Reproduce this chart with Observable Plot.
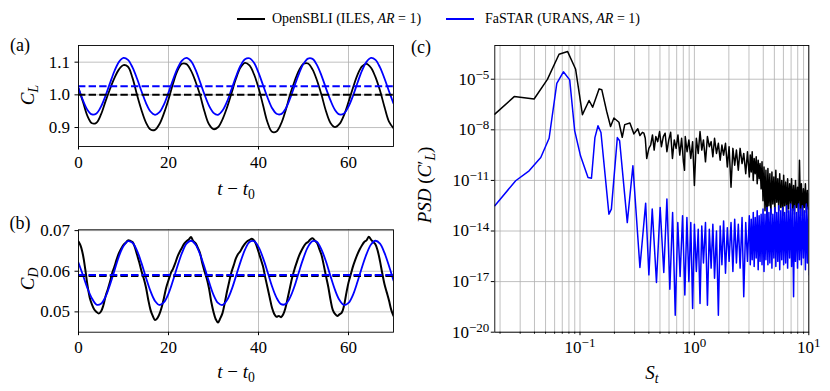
<!DOCTYPE html>
<html><head><meta charset="utf-8">
<script src="https://cdn.jsdelivr.net/npm/d3@7"></script>
<script src="https://cdn.jsdelivr.net/npm/@observablehq/plot@0.6"></script>
<style>
body{margin:0;background:#fff;}
#fig{position:relative;width:830px;height:391px;overflow:hidden;font-family:"Liberation Serif",serif;color:#000;background:#fff;}
#fig svg{position:absolute;left:0;top:0;}
#fig svg, #fig svg text{font-family:"Liberation Serif",serif !important;}
.lab{position:absolute;white-space:nowrap;transform:translate(-50%,-50%);line-height:1;}
.rot{transform:translate(-50%,-50%) rotate(-90deg);}
.leg{position:absolute;white-space:nowrap;font-size:14px;transform:translateY(-50%);line-height:1;}
.legline{position:absolute;height:0;width:28px;}
sub{font-size:0.72em;vertical-align:-0.3em;line-height:0;}
</style></head><body><div id="fig"></div><script>
// ---------------- data ----------------
const legendNames = ["OpenSBLI (ILES, <i>AR</i> = 1)", "FaSTAR (URANS, <i>AR</i> = 1)"];
const tTicks = [0, 20, 40, 60];
const clTicks = [0.9, 1.0, 1.1];
const cdTicks = [0.05, 0.06, 0.07];
const clMeanBlack = 1.000, clMeanBlue = 1.026;
const cdMeanBlack = 0.0589, cdMeanBlue = 0.0591;

const tCoarse = [0,1,2,3,4,5,6,7,8,9,10,11,12,13,14,15,16,17,18,19,20,21,22,23,24,25,26,27,28,29,30,31,32,33,34,35,36,37,38,39,40,41,42,43,44,45,46,47,48,49,50,51,52,53,54,55,56,57,58,59,60,61,62,63,64,65,66,67,68,69,70];
const clBlack = [
1.020,0.978,0.935,0.913,0.915,0.940,0.980,1.018,1.052,1.078,
1.091,1.086,1.052,1.000,0.953,0.915,0.894,0.893,0.911,0.944,
0.986,1.034,1.074,1.095,1.094,1.074,1.041,1.000,0.949,0.910,
0.895,0.901,0.925,0.961,1.005,1.050,1.084,1.098,1.090,1.063,
1.022,0.969,0.916,0.887,0.888,0.911,0.951,1.000,1.041,1.075,
1.095,1.096,1.078,1.044,1.000,0.950,0.914,0.901,0.911,0.938,
0.978,1.022,1.061,1.087,1.095,1.083,1.054,1.013,0.963,0.918,
0.898];
const clBlue = [
1.021,0.983,0.954,0.940,0.943,0.964,0.997,1.036,1.073,1.101,
1.113,1.107,1.084,1.050,1.011,0.975,0.949,0.939,0.947,0.971,
1.007,1.046,1.081,1.105,1.113,1.103,1.077,1.040,1.001,0.967,
0.945,0.939,0.952,0.979,1.017,1.056,1.089,1.109,1.112,1.098,
1.068,1.030,0.992,0.960,0.942,0.941,0.957,0.988,1.027,1.065,
1.095,1.111,1.110,1.091,1.059,1.020,0.983,0.954,0.940,0.943,
0.964,0.997,1.037,1.074,1.101,1.113,1.107,1.084,1.050,1.011,
0.974];
const cdBlue = [
0.0621,0.0590,0.0558,0.0533,0.0518,0.0520,0.0537,0.0567,0.0602,0.0637,
0.0662,0.0674,0.0670,0.0651,0.0620,0.0584,0.0551,0.0527,0.0517,0.0524,
0.0545,0.0577,0.0613,0.0645,0.0668,0.0675,0.0666,0.0642,0.0610,0.0574,
0.0542,0.0522,0.0517,0.0529,0.0554,0.0588,0.0623,0.0653,0.0672,0.0674,
0.0660,0.0633,0.0599,0.0563,0.0535,0.0519,0.0519,0.0535,0.0563,0.0599,
0.0633,0.0660,0.0674,0.0672,0.0653,0.0624,0.0588,0.0554,0.0529,0.0517,
0.0522,0.0542,0.0574,0.0610,0.0642,0.0666,0.0675,0.0668,0.0645,0.0613,
0.0577];
const tFine = [
0,0.5,1,1.5,2,2.5,3,3.5,4,4.5,
5,5.5,6,6.5,7,7.5,8,8.5,9,9.5,
10,10.5,11,11.5,12,12.5,13,13.5,14,14.5,
15,15.5,16,16.5,17,17.5,18,18.5,19,19.5,
20,20.5,21,21.5,22,22.5,23,23.5,24,24.5,
25,25.5,26,26.5,27,27.5,28,28.5,29,29.5,
30,30.5,31,31.5,32,32.5,33,33.5,34,34.5,
35,35.5,36,36.5,37,37.5,38,38.5,39,39.5,
40,40.5,41,41.5,42,42.5,43,43.5,44,44.5,
45,45.5,46,46.5,47,47.5,48,48.5,49,49.5,
50,50.5,51,51.5,52,52.5,53,53.5,54,54.5,
55,55.5,56,56.5,57,57.5,58,58.5,59,59.5,
60,60.5,61,61.5,62,62.5,63,63.5,64,64.5,
65,65.5,66,66.5,67,67.5,68,68.5,69,69.5,
70];
const cdBlack = [
0.0673,0.0662,0.0640,0.0605,0.0565,0.0535,0.0518,0.0506,0.0500,0.0496,
0.0501,0.0515,0.0538,0.0555,0.0574,0.0596,0.0612,0.0630,0.0645,0.0656,
0.0665,0.0670,0.0676,0.0675,0.0672,0.0660,0.0641,0.0622,0.0600,0.0582,
0.0560,0.0530,0.0505,0.0490,0.0480,0.0484,0.0495,0.0512,0.0535,0.0560,
0.0578,0.0595,0.0606,0.0620,0.0636,0.0648,0.0658,0.0668,0.0674,0.0678,
0.0684,0.0674,0.0669,0.0658,0.0645,0.0620,0.0600,0.0582,0.0558,0.0525,
0.0500,0.0482,0.0474,0.0484,0.0497,0.0522,0.0550,0.0575,0.0598,0.0615,
0.0632,0.0643,0.0650,0.0660,0.0668,0.0674,0.0677,0.0680,0.0676,0.0665,
0.0648,0.0630,0.0612,0.0585,0.0560,0.0535,0.0510,0.0495,0.0488,0.0490,
0.0487,0.0494,0.0510,0.0535,0.0560,0.0585,0.0605,0.0622,0.0638,0.0650,
0.0660,0.0668,0.0672,0.0678,0.0681,0.0676,0.0670,0.0655,0.0640,0.0615,
0.0588,0.0562,0.0530,0.0505,0.0495,0.0490,0.0494,0.0498,0.0515,0.0545,
0.0572,0.0592,0.0612,0.0628,0.0642,0.0654,0.0664,0.0672,0.0676,0.0685,
0.0678,0.0672,0.0666,0.0650,0.0625,0.0595,0.0568,0.0548,0.0528,0.0505,
0.0490];

// PSD: [St, log10(PSD)]
const psdBlackLow = [
[0.018,-7.07],[0.0266,-6.03],[0.0397,-6.17],[0.0519,-5.01],[0.0656,-3.52],[0.0780,-3.36],[0.0916,-4.41],
[0.105,-7.10],[0.120,-6.26],[0.129,-6.66],[0.147,-5.57],[0.155,-5.62],[0.171,-6.90],[0.185,-7.80],[0.198,-7.30],
[0.219,-7.55],[0.234,-8.44],[0.246,-7.69],[0.273,-7.60],[0.296,-8.24],[0.320,-7.94],[0.334,-8.34],[0.351,-8.15],
[0.362,-8.20],[0.372,-8.50],[0.383,-9.70],[0.400,-9.10],[0.415,-8.9],[0.43,-8.3],[0.445,-9.2],[0.46,-8.4],
[0.478,-8.7],[0.496,-8.1],[0.515,-9.0],[0.535,-8.4],[0.555,-8.2],[0.575,-9.3],[0.597,-8.6],[0.62,-8.15],
[0.643,-9.7],[0.667,-8.6],[0.692,-9.1],[0.718,-8.3],[0.745,-9.5],[0.773,-8.5],[0.802,-9.9],[0.82,-10.4],
[0.832,-8.4],[0.863,-9.3],[0.895,-8.6],[0.93,-9.7],[0.965,-8.7]];
const psdBlueLow = [
[0.018,-12.5],[0.0274,-11.02],[0.0359,-10.43],[0.0454,-9.64],[0.0537,-8.5],[0.0627,-5.24],[0.0716,-4.56],
[0.0813,-5.04],[0.0899,-8.06],[0.101,-9.54],[0.1175,-10.83],[0.126,-10.87],[0.135,-8.46],[0.1437,-7.76],
[0.1525,-8.16],[0.179,-13.0],[0.188,-12.7],[0.212,-8.46],[0.222,-8.65],[0.259,-13.5],[0.290,-10.13],
[0.334,-16.16],[0.375,-12.35],[0.40,-16.6],[0.428,-12.7],[0.466,-17.05],[0.502,-12.6],[0.54,-16.46],
[0.575,-12.1],[0.61,-17.45],[0.645,-12.9],[0.68,-19.0],[0.716,-13.5],[0.75,-16.7],[0.788,-13.1],
[0.825,-17.8],[0.86,-13.2],[0.895,-17.0],[0.93,-13.5],[0.965,-18.6]];
const stHigh = [
1.00,1.04,1.08,1.12,1.16,1.20,1.25,1.30,1.35,1.40,
1.45,1.50,1.56,1.62,1.68,1.74,1.80,1.87,1.94,2.01,
2.09,2.17,2.25,2.33,2.42,2.51,2.61,2.70,2.81,2.91,
3.02,3.08,3.14,3.20,3.27,3.33,3.40,3.47,3.54,3.61,
3.68,3.75,3.83,3.90,3.98,4.06,4.14,4.22,4.31,4.39,
4.48,4.57,4.66,4.76,4.85,4.95,5.05,5.15,5.25,5.36,
5.46,5.57,5.69,5.80,5.92,6.03,6.15,6.28,6.40,6.53,
6.66,6.80,6.93,7.07,7.21,7.36,7.50,7.65,7.81,7.97,
8.13,8.29,8.45,8.62,8.80,8.97,9.15,9.34,9.52,9.71,
9.91,10.0];
const psdBlackHigh = [
-11.3,-8.5,-9.4,-8.1,-9.2,-8.6,-9.9,-8.4,-9.0,-8.7,
-9.6,-8.5,-9.4,-8.8,-9.8,-8.9,-9.5,-8.8,-10.2,-9.0,
-11.4,-9.1,-10.1,-9.2,-10.4,-9.1,-10.0,-9.4,-10.6,-9.3,
-10.8,-9.5,-10.5,-9.3,-11.0,-9.7,-10.6,-9.6,-11.2,-9.8,
-10.9,-10.0,-11.5,-9.9,-12.2,-10.2,-12.8,-10.4,-13.4,-10.3,
-12.5,-10.6,-13.0,-10.5,-12.4,-10.8,-12.9,-10.4,-12.3,-10.9,
-12.8,-10.6,-12.6,-11.0,-13.1,-10.7,-12.5,-11.1,-12.9,-10.9,
-12.7,-11.2,-12.4,-10.9,-12.8,-11.3,-13.0,-11.0,-12.6,-11.4,
-12.9,-9.8,-12.7,-11.2,-13.1,-11.5,-12.6,-11.2,-12.9,-11.6,
-12.7,-11.8];
const psdBlueHigh = [
-13.6,-16.4,-13.9,-18.3,-13.7,-15.9,-13.5,-18.4,-13.9,-16.2,
-13.6,-16.8,-14.0,-19.0,-13.7,-16.0,-13.4,-16.5,-13.8,-15.8,
-13.5,-16.4,-13.3,-15.9,-13.6,-16.2,-13.2,-17.9,-13.5,-15.8,
-13.1,-16.0,-13.3,-15.7,-12.9,-16.1,-13.2,-15.6,-12.8,-16.3,
-13.1,-15.8,-13.0,-16.0,-12.7,-16.4,-13.0,-15.7,-12.6,-16.0,
-12.9,-15.9,-12.7,-16.2,-13.0,-15.6,-12.6,-16.1,-12.9,-15.8,
-12.5,-16.3,-12.8,-15.7,-12.6,-16.0,-12.9,-15.9,-12.5,-16.2,
-12.8,-15.6,-12.4,-16.1,-12.7,-17.9,-12.5,-15.8,-12.9,-16.2,
-12.4,-15.7,-12.7,-16.0,-12.5,-15.6,-12.8,-16.3,-12.4,-15.9,
-12.6,-16.6];
const stMajor = [0.1, 1, 10];
const stMinor = [0.02,0.03,0.04,0.05,0.06,0.07,0.08,0.09,0.2,0.3,0.4,0.5,0.6,0.7,0.8,0.9,2,3,4,5,6,7,8,9];
const psdTicks = [1e-5, 1e-8, 1e-11, 1e-14, 1e-17, 1e-20];

// ---------------- drawing ----------------
const W = 830, H = 391;
const BLUE = "#0000ff";
const GRID = {stroke: "#b0b0b0", strokeOpacity: 1, strokeWidth: 0.8};
const DASH = "7.4,3.2";
const FONT = '"Liberation Serif", serif';
function frameOpts(l, r, t, b) {
  return {width: W, height: H, marginLeft: l, marginRight: W - r, marginTop: t, marginBottom: H - b,
    style: {background: "transparent", fontFamily: FONT, fontSize: "17px", color: "black", overflow: "visible"}};
}
const fig = document.getElementById("fig");

const rowsA = tCoarse.map((t, i) => ({t, black: clBlack[i], blue: clBlue[i]}));
const svgA = Plot.plot({
  ...frameOpts(78, 393, 45, 146),
  x: {domain: [0, 70]},
  y: {domain: [0.842, 1.151]},
  marks: [
    Plot.gridX(tTicks, GRID),
    Plot.gridY(clTicks, GRID),
    Plot.line(rowsA, {x: "t", y: "black", stroke: "black", strokeWidth: 1.8, curve: "catmull-rom", clip: true}),
    Plot.line(rowsA, {x: "t", y: "blue", stroke: BLUE, strokeWidth: 1.8, curve: "catmull-rom", clip: true}),
    Plot.ruleY([clMeanBlack], {stroke: "black", strokeWidth: 2, strokeDasharray: DASH}),
    Plot.ruleY([clMeanBlue], {stroke: BLUE, strokeWidth: 2, strokeDasharray: DASH}),
    Plot.frame({stroke: "black", strokeWidth: 0.9}),
    Plot.axisX(tTicks, {tickSize: 3.5, tickPadding: 5.5, label: null, fontFamily: FONT, tickFormat: d => String(d)}),
    Plot.axisY(clTicks, {tickSize: 3.5, tickPadding: 5, label: null, fontFamily: FONT, tickFormat: d3.format(".1f")})
  ]
});
fig.appendChild(svgA);

const rowsBfine = tFine.map((t, i) => ({t, v: cdBlack[i]}));
const rowsBcoarse = tCoarse.map((t, i) => ({t, v: cdBlue[i]}));
const svgB = Plot.plot({
  ...frameOpts(78, 393, 229.3, 331.7),
  x: {domain: [0, 70]},
  y: {domain: [0.045, 0.0702]},
  marks: [
    Plot.gridX(tTicks, GRID),
    Plot.gridY(cdTicks, GRID),
    Plot.line(rowsBfine, {x: "t", y: "v", stroke: "black", strokeWidth: 2, curve: "catmull-rom", clip: true}),
    Plot.line(rowsBcoarse, {x: "t", y: "v", stroke: BLUE, strokeWidth: 1.8, curve: "catmull-rom", clip: true}),
    Plot.ruleY([cdMeanBlack], {stroke: "black", strokeWidth: 2.4, strokeDasharray: DASH}),
    Plot.ruleY([cdMeanBlue], {stroke: BLUE, strokeWidth: 2, strokeDasharray: DASH}),
    Plot.frame({stroke: "black", strokeWidth: 0.9}),
    Plot.axisX(tTicks, {tickSize: 3.5, tickPadding: 5.5, label: null, fontFamily: FONT, tickFormat: d => String(d)}),
    Plot.axisY(cdTicks, {tickSize: 3.5, tickPadding: 5, label: null, fontFamily: FONT, tickFormat: d3.format(".2f")})
  ]
});
fig.appendChild(svgB);

const expFmt = d => "10^" + String(Math.round(Math.log10(d))).replace("-", "\u2212");
const blackPts = psdBlackLow.concat(stHigh.map((s, i) => [s, psdBlackHigh[i]]));
const bluePts = psdBlueLow.concat(stHigh.map((s, i) => [s, psdBlueHigh[i]]));
const svgC = Plot.plot({
  ...frameOpts(494.3, 808.3, 45, 331.7),
  x: {type: "log", domain: [0.018, 10]},
  y: {type: "log", domain: [1e-20, 1e-3]},
  marks: [
    Plot.gridX(stMinor.concat(stMajor), GRID),
    Plot.gridY(psdTicks, GRID),
    Plot.line(blackPts, {x: d => d[0], y: d => Math.pow(10, d[1]), stroke: "black", strokeWidth: 1.5, clip: true}),
    Plot.line(bluePts, {x: d => d[0], y: d => Math.pow(10, d[1]), stroke: BLUE, strokeWidth: 1.5, clip: true}),
    Plot.frame({stroke: "black", strokeWidth: 0.9}),
    Plot.axisX(stMinor, {tickSize: 2, tickFormat: () => "", label: null}),
    Plot.axisX(stMajor, {tickSize: 3.5, tickPadding: 5.5, label: null, fontFamily: FONT, tickFormat: expFmt}),
    Plot.axisY(psdTicks, {tickSize: 3.5, tickPadding: 2, label: null, fontFamily: FONT, tickFormat: expFmt})
  ]
});
svgC.querySelectorAll("text").forEach(t => {
  const s = t.textContent;
  if (s.includes("^")) {
    const [b, e] = s.split("^");
    t.textContent = b;
    const ts = document.createElementNS("http://www.w3.org/2000/svg", "tspan");
    ts.setAttribute("dy", "-0.45em");
    ts.setAttribute("font-size", "13px");
    ts.textContent = e;
    t.appendChild(ts);
  }
});
fig.appendChild(svgC);

// labels and legend (HTML text)
function lab(html, x, y, size, rot) {
  const d = document.createElement("div");
  d.className = "lab" + (rot ? " rot" : "");
  d.style.left = x + "px"; d.style.top = y + "px"; d.style.fontSize = size + "px";
  d.innerHTML = html;
  fig.appendChild(d);
}
lab("(a)", 20, 45, 18);
lab("(b)", 20, 223, 18);
lab("(c)", 421, 47, 18);
lab("<i>C</i><sub><i>L</i></sub>", 27, 95, 19, true);
lab("<i>C</i><sub><i>D</i></sub>", 27, 279, 19, true);
lab("<i>t</i> \u2212 <i>t</i><sub>0</sub>", 236, 188, 19);
lab("<i>t</i> \u2212 <i>t</i><sub>0</sub>", 236, 371, 19);
lab("<i>S</i><sub><i>t</i></sub>", 652, 372, 19);
lab("<i>PSD</i> (<i>C</i>\u2032<sub><i>L</i></sub>)", 424, 185, 19, true);

function legend(color, lx, tx, html) {
  const l = document.createElement("div");
  l.className = "legline";
  l.style.left = lx + "px"; l.style.top = "18px"; l.style.borderTop = "2px solid " + color;
  fig.appendChild(l);
  const t = document.createElement("div");
  t.className = "leg";
  t.style.left = tx + "px"; t.style.top = "19px";
  t.innerHTML = html;
  fig.appendChild(t);
}
legend("black", 237, 272, legendNames[0]);
legend(BLUE, 446, 485, legendNames[1]);
</script></body></html>
